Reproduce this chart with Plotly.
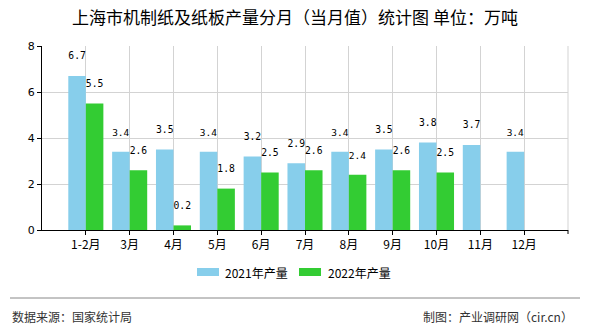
import plotly.graph_objects as go

categories = ["1-2月", "3月", "4月", "5月", "6月", "7月", "8月", "9月", "10月", "11月", "12月"]
values_2021 = [6.7, 3.4, 3.5, 3.4, 3.2, 2.9, 3.4, 3.5, 3.8, 3.7, 3.4]
values_2022 = [5.5, 2.6, 0.2, 1.8, 2.5, 2.6, 2.4, 2.6, 2.5, None, None]
series_names = ["2021年产量", "2022年产量"]
colors = ["#87CEEB", "#33CC33"]
y_ticks = [0, 2, 4, 6, 8]

W, H = 590, 330
L, R, T, B = 42, 22, 46, 100
PW, PH = W - L - R, H - T - B


def px_x(px):
    return (px - L) / PW


def px_y(py):
    return (H - B - py) / PH


label_font = dict(family="DejaVu Sans Mono, Liberation Mono, monospace", size=11, color="#000")
cjk = "Noto Sans CJK SC, Noto Sans, sans-serif"

fig = go.Figure()
for name, vals, col in zip(series_names, [values_2021, values_2022], colors):
    fig.add_trace(go.Bar(
        x=categories, y=vals, name=name, marker=dict(color=col, line=dict(width=0)),
        text=[("%.1f<br><span style='font-size:6px'> </span>" % v) if v is not None else "" for v in vals],
        textposition="outside", textfont=label_font, cliponaxis=False,
        offsetgroup=name, showlegend=False,
    ))

shapes = [
    # right border
    dict(type="line", xref="paper", yref="paper", x0=1, x1=1, y0=0, y1=1,
         line=dict(color="#D3D3D3", width=1)),
    dict(type="line", xref="paper", yref="paper", x0=1, x1=1, y0=0, y1=px_y(234),
         line=dict(color="#000", width=1)),
    # footer line
    dict(type="line", xref="paper", yref="paper", x0=px_x(10), x1=px_x(580),
         y0=px_y(298), y1=px_y(298), line=dict(color="#888", width=1)),
]
annotations = []
legend_pos = [(197, 223), (299, 326)]
for (rx, tx), name, col in zip(legend_pos, series_names, colors):
    shapes.append(dict(type="rect", xref="paper", yref="paper",
                       x0=px_x(rx), x1=px_x(rx + 22), y0=px_y(276), y1=px_y(268),
                       fillcolor=col, line=dict(width=0)))
    annotations.append(dict(xref="paper", yref="paper", x=px_x(tx), y=px_y(272),
                            text=name, showarrow=False, xanchor="left", yanchor="middle",
                            font=dict(family=cjk, size=12, color="#000")))

annotations.append(dict(xref="paper", yref="paper", x=px_x(10), y=px_y(316),
                        text="数据来源：国家统计局", showarrow=False, xanchor="left",
                        yanchor="middle", font=dict(family=cjk, size=12, color="#333")))
annotations.append(dict(xref="paper", yref="paper", x=px_x(575), y=px_y(316),
                        text="制图：产业调研网（cir.cn）", showarrow=False, xanchor="right",
                        yanchor="middle", font=dict(family=cjk, size=12, color="#333")))

fig.update_layout(
    width=W, height=H,
    margin=dict(l=L, r=R, t=T, b=B, pad=0),
    paper_bgcolor="white", plot_bgcolor="white",
    barmode="group", bargap=0.2, bargroupgap=0,
    title=dict(text="上海市机制纸及纸板产量分月（当月值）统计图 单位：万吨",
               x=0.5, xanchor="center", y=1 - 18 / H, yanchor="middle",
               font=dict(family=cjk, size=17, color="#000")),
    shapes=shapes, annotations=annotations,
    showlegend=False,
)
fig.update_xaxes(
    type="category", range=[-1.0, 11.0],
    showgrid=True, gridcolor="#D3D3D3", gridwidth=1,
    showline=True, linecolor="#000", linewidth=1,
    ticks="outside", ticklen=4, tickcolor="#000",
    tickfont=dict(family=cjk, size=12, color="#000"),
)
fig.update_yaxes(
    range=[0, 8], tickvals=y_ticks,
    showgrid=True, gridcolor="#D3D3D3", gridwidth=1,
    showline=True, linecolor="#000", linewidth=1,
    ticks="outside", ticklen=4, tickcolor="#000",
    tickfont=dict(family="DejaVu Sans, sans-serif", size=11, color="#000"),
    zeroline=False,
)

fig.write_html("out.html")
